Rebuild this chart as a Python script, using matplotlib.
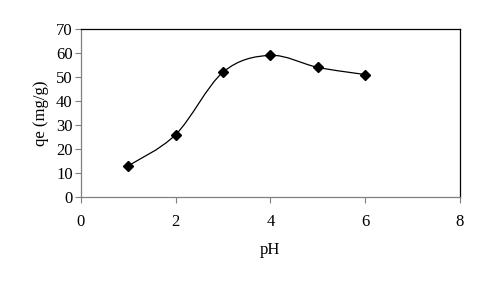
import numpy as np
import matplotlib.pyplot as plt
from matplotlib.path import Path
from matplotlib.patches import PathPatch

ph = [1, 2, 3, 4, 5, 6]
qe = [13, 26, 52, 59, 54, 51]

plt.rcParams['font.family'] = ['Liberation Serif', 'DejaVu Serif']

# Excel-style smoothed line: cubic Bezier segments, control points at 1/6 of neighbour difference
def smooth_path(x, y):
    pts = np.column_stack([x, y]).astype(float)
    n = len(pts)
    verts = [pts[0]]
    codes = [Path.MOVETO]
    for i in range(n - 1):
        p0 = pts[i - 1] if i > 0 else pts[i]
        p1 = pts[i]
        p2 = pts[i + 1]
        p3 = pts[i + 2] if i + 2 < n else pts[i + 1]
        c1 = p1 + (p2 - p0) / 6
        c2 = p2 - (p3 - p1) / 6
        verts += [c1, c2, p2]
        codes += [Path.CURVE4] * 3
    return Path(verts, codes)

fig = plt.figure(figsize=(4.82, 2.81), dpi=100)
ax = fig.add_axes([0.168, 0.299, 0.786, 0.598])

ax.add_patch(PathPatch(smooth_path(ph, qe), facecolor='none', edgecolor='black', lw=0.9))
ax.plot(ph, qe, linestyle='none', marker='D', color='black', markersize=5.5)

ax.set_xlim(0, 8)
ax.set_ylim(0, 70)
ax.set_xticks([0, 2, 4, 6, 8])
ax.set_yticks(range(0, 71, 10))
ax.tick_params(labelsize=12, length=4, width=0.8, color='#808080', direction='out', pad=2)
ax.tick_params(axis='x', pad=8)
for s in ['left', 'bottom']:
    ax.spines[s].set_color('#808080')
for s in ['top', 'right']:
    ax.spines[s].set_color('black')
for s in ax.spines.values():
    s.set_linewidth(0.9)

ax.set_xlabel('pH', fontsize=12, labelpad=9)
ax.set_ylabel('qe (mg/g)', fontsize=12, labelpad=5)

plt.savefig('out.png', dpi=100)
